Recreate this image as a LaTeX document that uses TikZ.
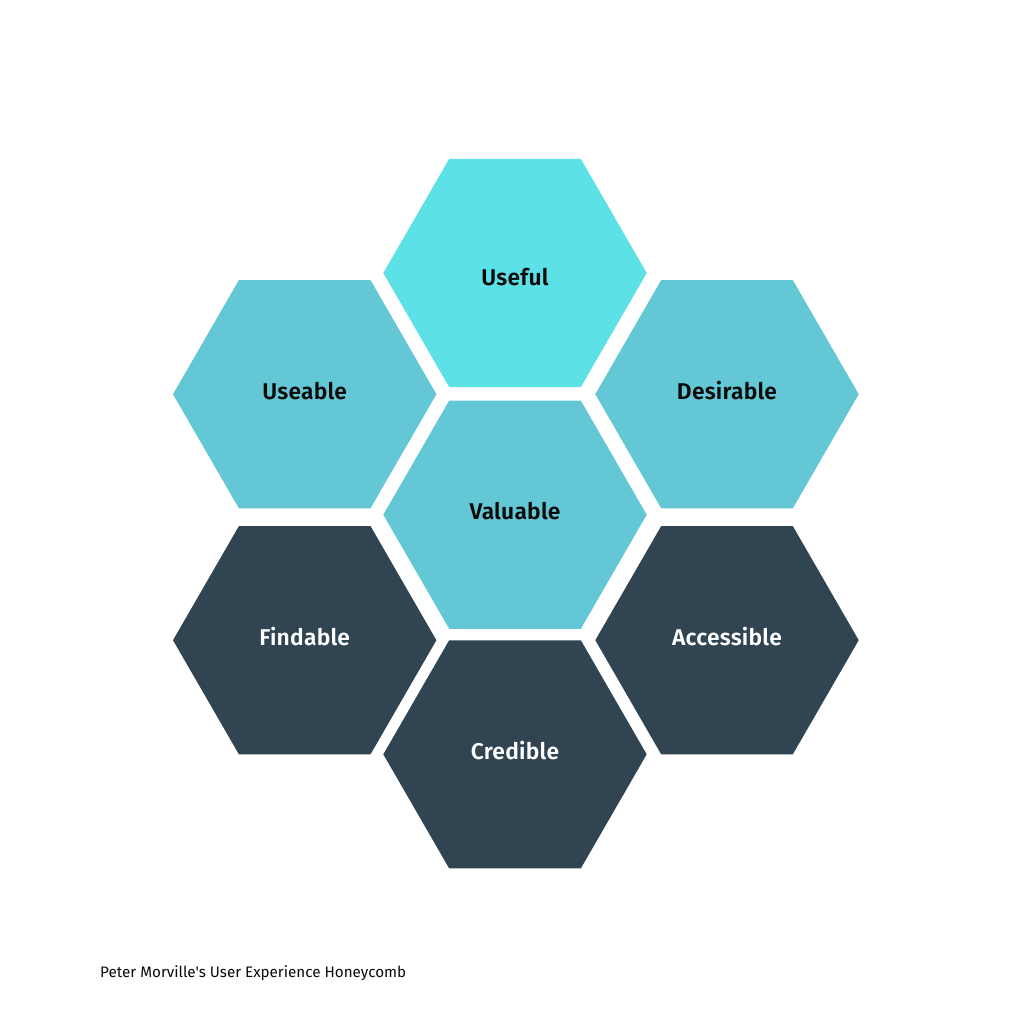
\documentclass[tikz,border=0pt]{standalone}
\usepackage{fontspec}
\setmainfont{Fira Sans}[BoldFont={Fira Sans SemiBold}]
\newfontfamily\captionface{Fira Sans}
\usetikzlibrary{shapes.geometric}
\definecolor{hexbright}{HTML}{5CE1E6}
\definecolor{hexlight}{HTML}{63C7D5}
\definecolor{hexdark}{HTML}{304452}
\definecolor{inkdark}{HTML}{0A0A0A}
\begin{document}
\begin{tikzpicture}[x=1pt,y=-1pt,
  hexcell/.style={regular polygon, regular polygon sides=6, minimum size=263.4pt,
    inner sep=0pt, outer sep=0pt, draw=none},
  cellname/.style={anchor=base, inner sep=0pt,
    font=\fontsize{22.8}{28}\selectfont\bfseries\addfontfeature{LetterSpace=1}},
  onlight/.style={cellname, text=inkdark},
  ondark/.style={cellname, text=white}]
  \useasboundingbox[fill=white] (0,0) rectangle (1030,1030);

  % honeycomb cells
  \node[hexcell, fill=hexbright] (useful)     at (515,273)   {};
  \node[hexcell, fill=hexlight]  (useable)    at (304.7,394.2) {};
  \node[hexcell, fill=hexlight]  (desirable)  at (727,394.2) {};
  \node[hexcell, fill=hexlight]  (valuable)   at (515,514.7) {};
  \node[hexcell, fill=hexdark]   (findable)   at (304.7,640.2) {};
  \node[hexcell, fill=hexdark]   (accessible) at (727,640.2) {};
  \node[hexcell, fill=hexdark]   (credible)   at (515,754.3) {};

  % cell labels
  \node[onlight] (t-useful)     at ([yshift=-12.5pt]useful.center)     {Useful};
  \node[onlight] (t-useable)    at ([yshift=-5pt]useable.center)     {Useable};
  \node[onlight] (t-desirable)  at ([yshift=-5pt]desirable.center)   {Desirable};
  \node[onlight] (t-valuable)   at ([yshift=-5pt]valuable.center)    {Valuable};
  \node[ondark]  (t-findable)   at ([yshift=-5pt]findable.center)    {Findable};
  \node[ondark]  (t-accessible) at ([yshift=-5pt]accessible.center)  {Accessible};
  \node[ondark]  (t-credible)   at ([yshift=-5pt]credible.center)    {Credible};

  % caption
  \node[anchor=base west, inner sep=0pt, text=inkdark,
        font=\captionface\fontsize{15.2}{18}\selectfont] (caption) at (100,977)
        {Peter Morville's User Experience Honeycomb};
\end{tikzpicture}
\end{document}
